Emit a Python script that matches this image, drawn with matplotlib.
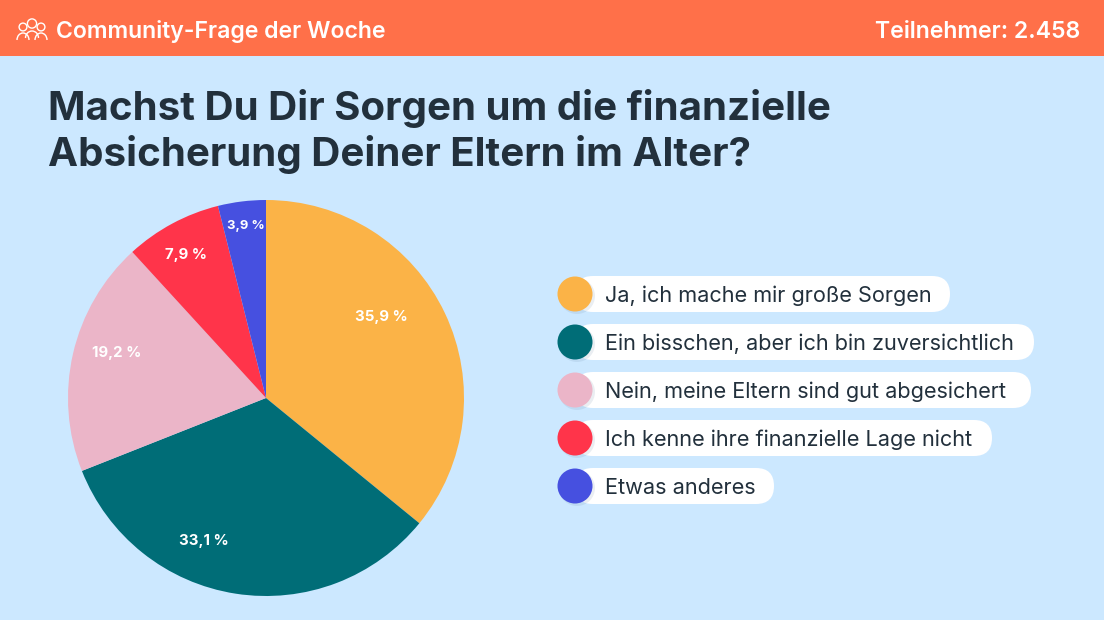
import matplotlib
matplotlib.use('Agg')
import matplotlib.pyplot as plt
from matplotlib.patches import Rectangle, FancyBboxPatch, Circle, Arc

plt.rcParams['font.family'] = ['Inter', 'DejaVu Sans']

# data
answers = ['Ja, ich mache mir große Sorgen',
           'Ein bisschen, aber ich bin zuversichtlich',
           'Nein, meine Eltern sind gut abgesichert',
           'Ich kenne ihre finanzielle Lage nicht',
           'Etwas anderes']
shares = [35.9, 33.1, 19.2, 7.9, 3.9]
share_labels = ['35,9 %', '33,1 %', '19,2 %', '7,9 %', '3,9 %']
colors = ['#fbb347', '#006d77', '#ebb5c8', '#ff344a', '#4650e0']

# layout, in pixels
label_xy = [(381, 316), (204, 540), (117, 352), (186, 253), (246, 224)]
label_size = [10.8, 10.8, 10.8, 10.8, 9.4]
pill_right = [950, 1034, 1031, 992, 774]
pill_y = [294, 342, 390, 438, 486]

W, H = 1104, 620
DARK = '#22303c'
fig = plt.figure(figsize=(W/100, H/100), dpi=100, facecolor='#cce8ff')

bg = fig.add_axes([0, 0, 1, 1])
bg.set_xlim(0, W)
bg.set_ylim(H, 0)
bg.axis('off')

# header
bg.add_patch(Rectangle((0, 0), W, 56, color='#ff7049', lw=0))
bg.text(56, 29, 'Community-Frage der Woche', color='white', fontsize=16.6,
        fontweight='semibold', va='center_baseline')
bg.text(1080, 29, 'Teilnehmer: 2.458', color='white', fontsize=16.6,
        fontweight='semibold', va='center_baseline', ha='right')

# people icon
for cx, cy, r in [(32, 23.5, 4.6), (23, 27, 3.9), (41, 27, 3.9)]:
    bg.add_patch(Circle((cx, cy), r, fill=False, ec='white', lw=1.0))
for cx, top, w in [(32, 31, 13), (23, 33, 12), (41, 33, 12)]:
    bg.add_patch(Arc((cx, top + 7), w, 14, theta1=180, theta2=360, ec='white', lw=1.0))

# title
bg.text(48, 105, 'Machst Du Dir Sorgen um die finanzielle', color=DARK, fontsize=29,
        fontweight='bold', va='center_baseline')
bg.text(48, 151, 'Absicherung Deiner Eltern im Alter?', color=DARK, fontsize=29,
        fontweight='bold', va='center_baseline')

# pie
cx, cy, radius = 266, 398, 198
pie_ax = fig.add_axes([(cx - radius)/W, 1 - (cy + radius)/H, 2*radius/W, 2*radius/H])
pie_ax.pie(shares, colors=colors, startangle=90, counterclock=False, radius=1,
           wedgeprops={'linewidth': 0})
pie_ax.set_xlim(-1, 1)
pie_ax.set_ylim(-1, 1)

# text layer over the pie
top = fig.add_axes([0, 0, 1, 1])
top.set_xlim(0, W)
top.set_ylim(H, 0)
top.axis('off')
top.patch.set_alpha(0)

for lab, (x, y), size in zip(share_labels, label_xy, label_size):
    top.text(x, y, lab, color='white', fontsize=size, fontweight='bold',
             ha='center', va='center_baseline')

# legend pills
for name, col, right, y in zip(answers, colors, pill_right, pill_y):
    top.add_patch(FancyBboxPatch((575, y - 18), right - 575, 36,
                                 boxstyle='round,pad=0,rounding_size=18',
                                 fc='white', ec='none', mutation_aspect=1))
    top.add_patch(Circle((577, y + 2), 18, fc='#5a7a99', ec='none', alpha=0.12))
    top.add_patch(Circle((575, y), 17.5, fc=col, ec='none'))
    top.text(605, y, name, color=DARK, fontsize=15.6, va='center_baseline')

fig.savefig('out.png', dpi=100, facecolor=fig.get_facecolor())
